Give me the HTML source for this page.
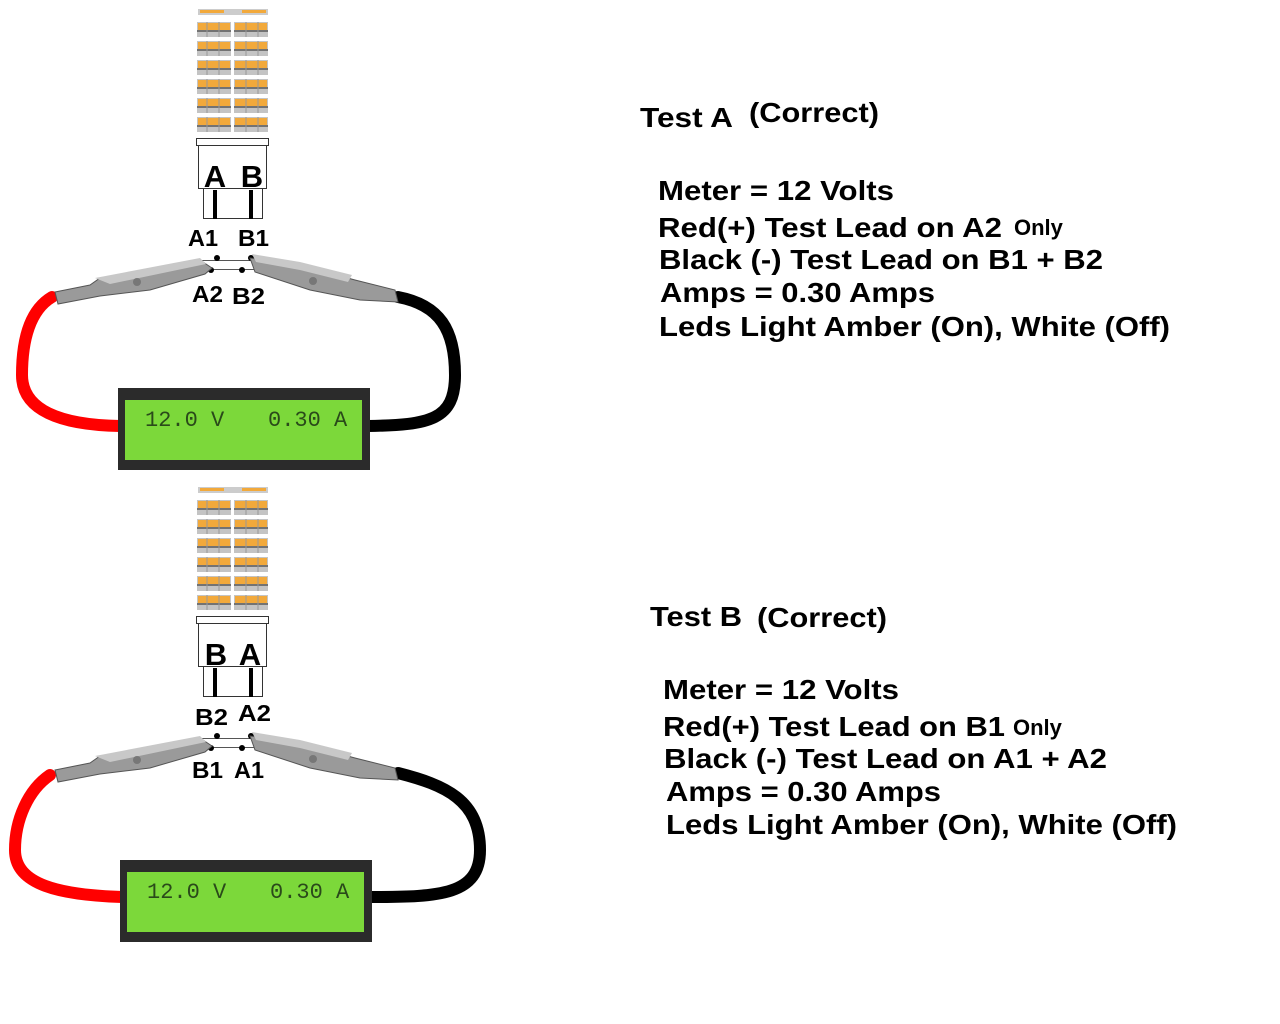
<!DOCTYPE html>
<html><head><meta charset="utf-8"><style>
html,body{margin:0;padding:0;background:#fff;}
svg{display:block}
text{font-family:"Liberation Sans",Arial,sans-serif;font-weight:bold;fill:#000}
</style></head><body>
<svg width="1280" height="1024" viewBox="0 0 1280 1024" xmlns="http://www.w3.org/2000/svg">
<defs>
  <g id="row">
    <rect x="197" y="0" width="34" height="15" fill="#c4c4c4"/>
    <rect x="234" y="0" width="34" height="15" fill="#c4c4c4"/>
    <rect x="198" y="1" width="32" height="7" fill="#f2a93b"/>
    <rect x="235" y="1" width="32" height="7" fill="#f2a93b"/>
    <line x1="197" y1="9" x2="231" y2="9" stroke="#222" stroke-width="1"/>
    <line x1="234" y1="9" x2="268" y2="9" stroke="#222" stroke-width="1"/>
    <line x1="207" y1="0" x2="207" y2="15" stroke="#999" stroke-width="1"/>
    <line x1="219" y1="0" x2="219" y2="15" stroke="#999" stroke-width="1"/>
    <line x1="246" y1="0" x2="246" y2="15" stroke="#999" stroke-width="1"/>
    <line x1="258" y1="0" x2="258" y2="15" stroke="#999" stroke-width="1"/>
  </g>
  <g id="bulb">
    <rect x="198" y="9" width="70" height="6" fill="#ccc"/>
    <rect x="200" y="10" width="24" height="3" fill="#f2a93b"/>
    <rect x="242" y="10" width="24" height="3" fill="#f2a93b"/>
    <use href="#row" y="22"/><use href="#row" y="41"/><use href="#row" y="60"/>
    <use href="#row" y="79"/><use href="#row" y="98"/><use href="#row" y="117"/>
    <rect x="196.5" y="138.5" width="72" height="7" fill="#fff" stroke="#333"/>
    <rect x="198.5" y="145.5" width="68" height="43" fill="#fff" stroke="#333"/>
    <rect x="203.5" y="188.5" width="59" height="30" fill="#fff" stroke="#333"/>
    <rect x="213" y="190" width="4" height="29" fill="#000"/>
    <rect x="249" y="190" width="4" height="29" fill="#000"/>
    <rect x="200.5" y="260.5" width="61" height="9" fill="#fff" stroke="#555"/>
    <circle cx="217" cy="258" r="3" fill="#000"/><circle cx="251" cy="258" r="3" fill="#000"/>
    <circle cx="211" cy="270" r="3" fill="#000"/><circle cx="242" cy="270" r="3" fill="#000"/>
    <polygon points="55,292 90,285 100,278 200,260 212,268 205,274 150,290 100,296 58,304" fill="#9a9a9a" stroke="#555"/>
    <polygon points="95,278 200,258 206,264 110,284" fill="#c8c8c8"/>
    <circle cx="137" cy="282" r="4" fill="#777"/>
    <polygon points="250,258 300,265 355,280 395,290 398,302 360,300 310,290 255,272" fill="#9a9a9a" stroke="#555"/>
    <polygon points="252,254 300,262 352,275 348,282 300,270 256,262" fill="#c8c8c8"/>
    <circle cx="313" cy="281" r="4" fill="#777"/>
  </g>
  <g id="meter">
    <rect x="118" y="388" width="252" height="82" fill="#2b2b2b"/>
    <rect x="125" y="400" width="237" height="60" fill="#7cd83a"/>
  </g>
</defs>

<path d="M52,297 C30,310 22,340 22,375 C22,410 60,425 120,426" fill="none" stroke="#f00" stroke-width="12" stroke-linecap="round"/>
<path d="M398,297 C440,305 455,330 455,375 C455,420 430,425 368,426" fill="none" stroke="#000" stroke-width="12" stroke-linecap="round"/>
<use href="#bulb"/>
<use href="#meter"/>
<text x="215" y="187" font-size="31" text-anchor="middle">A</text>
<text x="252" y="187" font-size="31" text-anchor="middle">B</text>
<text x="188" y="246" font-size="23" textLength="30" lengthAdjust="spacingAndGlyphs">A1</text>
<text x="238" y="246" font-size="23" textLength="31" lengthAdjust="spacingAndGlyphs">B1</text>
<text x="192" y="302" font-size="23" textLength="31" lengthAdjust="spacingAndGlyphs">A2</text>
<text x="232" y="304" font-size="23" textLength="33" lengthAdjust="spacingAndGlyphs">B2</text>
<text x="145" y="426" font-size="22" style="font-family:'Liberation Mono',monospace;font-weight:normal;fill:#2a4a1a">12.0 V</text>
<text x="268" y="426" font-size="22" style="font-family:'Liberation Mono',monospace;font-weight:normal;fill:#2a4a1a">0.30 A</text>

<path d="M50,775 C28,790 15,820 15,850 C15,885 60,895 122,897" fill="none" stroke="#f00" stroke-width="12" stroke-linecap="round"/>
<path d="M398,773 C445,785 480,800 480,850 C480,895 440,897 372,897" fill="none" stroke="#000" stroke-width="12" stroke-linecap="round"/>
<use href="#bulb" y="478"/>
<use href="#meter" x="2" y="472"/>
<text x="216" y="665" font-size="31" text-anchor="middle">B</text>
<text x="250" y="665" font-size="31" text-anchor="middle">A</text>
<text x="195" y="725" font-size="23" textLength="33" lengthAdjust="spacingAndGlyphs">B2</text>
<text x="238" y="721" font-size="23" textLength="33" lengthAdjust="spacingAndGlyphs">A2</text>
<text x="192" y="778" font-size="23" textLength="31" lengthAdjust="spacingAndGlyphs">B1</text>
<text x="234" y="778" font-size="23" textLength="30" lengthAdjust="spacingAndGlyphs">A1</text>
<text x="147" y="898" font-size="22" style="font-family:'Liberation Mono',monospace;font-weight:normal;fill:#2a4a1a">12.0 V</text>
<text x="270" y="898" font-size="22" style="font-family:'Liberation Mono',monospace;font-weight:normal;fill:#2a4a1a">0.30 A</text>

<text x="640" y="127" font-size="28" textLength="93" lengthAdjust="spacingAndGlyphs">Test A</text>
<text x="749" y="122" font-size="28" textLength="130" lengthAdjust="spacingAndGlyphs">(Correct)</text>
<text x="658" y="200" font-size="28" textLength="236" lengthAdjust="spacingAndGlyphs">Meter = 12 Volts</text>
<text x="658" y="237" font-size="28" textLength="344" lengthAdjust="spacingAndGlyphs">Red(+) Test Lead on A2</text>
<text x="1014" y="235" font-size="22">Only</text>
<text x="659" y="269" font-size="28" textLength="444" lengthAdjust="spacingAndGlyphs">Black (-) Test Lead on B1 + B2</text>
<text x="660" y="302" font-size="28" textLength="275" lengthAdjust="spacingAndGlyphs">Amps = 0.30 Amps</text>
<text x="659" y="336" font-size="28" textLength="511" lengthAdjust="spacingAndGlyphs">Leds Light Amber (On), White (Off)</text>

<text x="650" y="626" font-size="28" textLength="92" lengthAdjust="spacingAndGlyphs">Test B</text>
<text x="757" y="627" font-size="28" textLength="130" lengthAdjust="spacingAndGlyphs">(Correct)</text>
<text x="663" y="699" font-size="28" textLength="236" lengthAdjust="spacingAndGlyphs">Meter = 12 Volts</text>
<text x="663" y="736" font-size="28" textLength="342" lengthAdjust="spacingAndGlyphs">Red(+) Test Lead on B1</text>
<text x="1013" y="735" font-size="22">Only</text>
<text x="664" y="768" font-size="28" textLength="443" lengthAdjust="spacingAndGlyphs">Black (-) Test Lead on A1 + A2</text>
<text x="666" y="801" font-size="28" textLength="275" lengthAdjust="spacingAndGlyphs">Amps = 0.30 Amps</text>
<text x="666" y="834" font-size="28" textLength="511" lengthAdjust="spacingAndGlyphs">Leds Light Amber (On), White (Off)</text>
</svg>
</body></html>
